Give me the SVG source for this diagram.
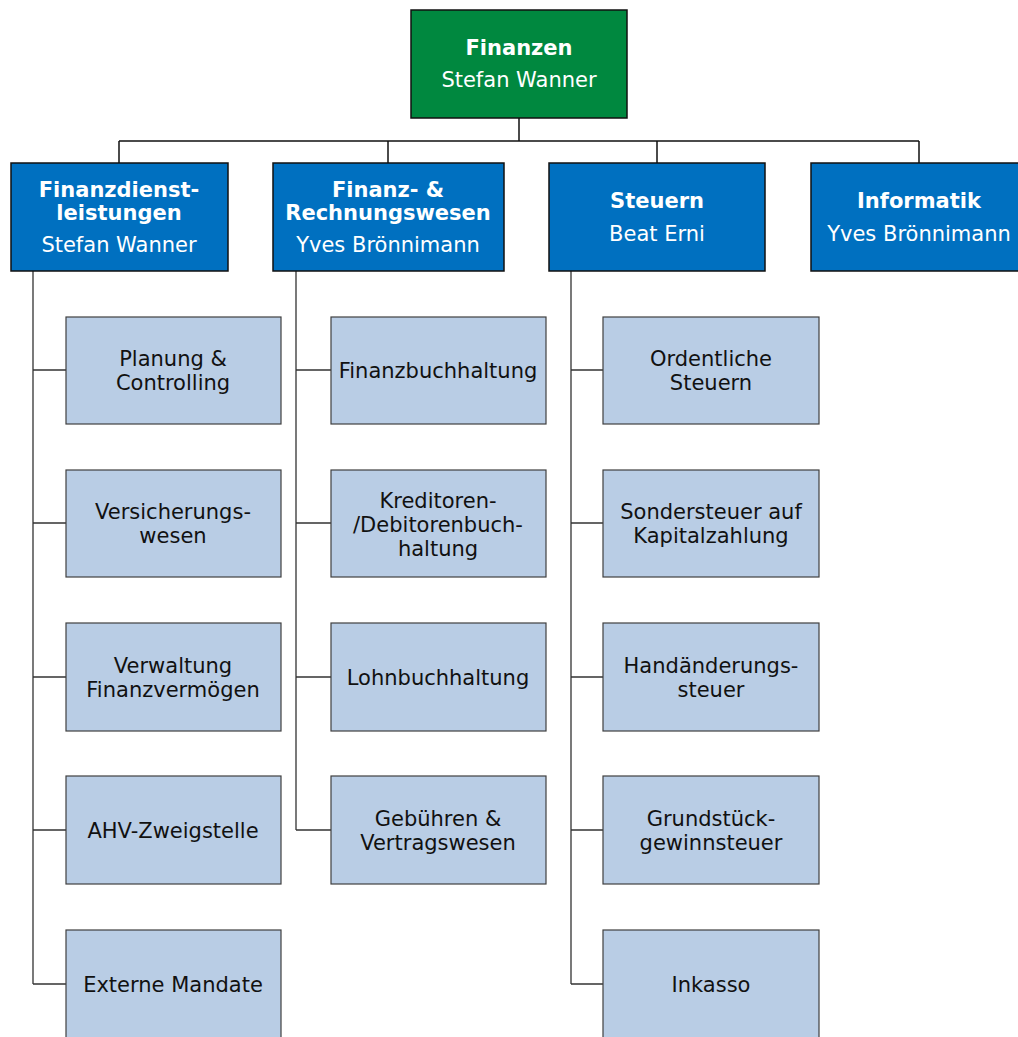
<svg xmlns="http://www.w3.org/2000/svg" width="1018" height="1037" viewBox="0 0 1018 1037">
<style>
text{font-family:"DejaVu Sans",Verdana,sans-serif;font-size:21px;text-anchor:middle}
.top{fill:#00883f;stroke:#111;stroke-width:1.5}
.mid{fill:#0070c0;stroke:#111;stroke-width:1.5}
.leaf{fill:#b9cde5;stroke:#404040;stroke-width:1.2}
.w{fill:#fff}
.b{font-weight:bold}
.k{fill:#111}
.c{fill:none;stroke:#111;stroke-width:1.5}
.c2{fill:none;stroke:#333;stroke-width:1.3}
</style>
<rect width="1018" height="1037" fill="#fff"/>
<g id="connectors">
<path class="c" d="M519 118V141M119 141H919M119 141V163M388 141V163M657 141V163M919 141V163"/>
<path class="c2" d="M33 271V984M33 370H66M33 523H66M33 677H66M33 830H66M33 984H66"/>
<path class="c2" d="M296 271V830M296 370H331M296 523H331M296 677H331M296 830H331"/>
<path class="c2" d="M571 271V984M571 370H603M571 523H603M571 677H603M571 830H603M571 984H603"/>
</g>
<g id="finanzen"><rect class="top" x="411" y="10" width="216" height="108"/><text class="w b" x="519" y="55">Finanzen</text><text class="w" x="519" y="87">Stefan Wanner</text></g>
<g id="finanzdienstleistungen"><rect class="mid" x="11" y="163" width="217" height="108"/><text class="w b" x="119" y="197">Finanzdienst-</text><text class="w b" x="119" y="220">leistungen</text><text class="w" x="119" y="252">Stefan Wanner</text></g>
<g id="rechnungswesen"><rect class="mid" x="273" y="163" width="231" height="108"/><text class="w b" x="388" y="197">Finanz- &amp;</text><text class="w b" x="388" y="220">Rechnungswesen</text><text class="w" x="388" y="252">Yves Brönnimann</text></g>
<g id="steuern"><rect class="mid" x="549" y="163" width="216" height="108"/><text class="w b" x="657" y="208">Steuern</text><text class="w" x="657" y="241">Beat Erni</text></g>
<g id="informatik"><rect class="mid" x="811" y="163" width="216" height="108"/><text class="w b" x="919" y="208">Informatik</text><text class="w" x="919" y="241">Yves Brönnimann</text></g>

<g id="planung"><rect class="leaf" x="66" y="317" width="215" height="107"/><text class="k" x="173" y="366">Planung &amp;</text><text class="k" x="173" y="390">Controlling</text></g>
<g id="versicherung"><rect class="leaf" x="66" y="470" width="215" height="107"/><text class="k" x="173" y="519">Versicherungs-</text><text class="k" x="173" y="543">wesen</text></g>
<g id="verwaltung"><rect class="leaf" x="66" y="623" width="215" height="108"/><text class="k" x="173" y="673">Verwaltung</text><text class="k" x="173" y="697">Finanzvermögen</text></g>
<g id="ahv"><rect class="leaf" x="66" y="776" width="215" height="108"/><text class="k" x="173" y="838">AHV-Zweigstelle</text></g>
<g id="externe"><rect class="leaf" x="66" y="930" width="215" height="110"/><text class="k" x="173" y="992">Externe Mandate</text></g>

<g id="finanzbuchhaltung"><rect class="leaf" x="331" y="317" width="215" height="107"/><text class="k" x="438" y="378">Finanzbuchhaltung</text></g>
<g id="kreditoren"><rect class="leaf" x="331" y="470" width="215" height="107"/><text class="k" x="438" y="508">Kreditoren-</text><text class="k" x="438" y="532">/Debitorenbuch-</text><text class="k" x="438" y="556">haltung</text></g>
<g id="lohnbuchhaltung"><rect class="leaf" x="331" y="623" width="215" height="108"/><text class="k" x="438" y="685">Lohnbuchhaltung</text></g>
<g id="gebuehren"><rect class="leaf" x="331" y="776" width="215" height="108"/><text class="k" x="438" y="826">Gebühren &amp;</text><text class="k" x="438" y="850">Vertragswesen</text></g>

<g id="ordentliche"><rect class="leaf" x="603" y="317" width="216" height="107"/><text class="k" x="711" y="366">Ordentliche</text><text class="k" x="711" y="390">Steuern</text></g>
<g id="sondersteuer"><rect class="leaf" x="603" y="470" width="216" height="107"/><text class="k" x="711" y="519">Sondersteuer auf</text><text class="k" x="711" y="543">Kapitalzahlung</text></g>
<g id="handaenderung"><rect class="leaf" x="603" y="623" width="216" height="108"/><text class="k" x="711" y="673">Handänderungs-</text><text class="k" x="711" y="697">steuer</text></g>
<g id="grundstueck"><rect class="leaf" x="603" y="776" width="216" height="108"/><text class="k" x="711" y="826">Grundstück-</text><text class="k" x="711" y="850">gewinnsteuer</text></g>
<g id="inkasso"><rect class="leaf" x="603" y="930" width="216" height="110"/><text class="k" x="711" y="992">Inkasso</text></g>
</svg>
